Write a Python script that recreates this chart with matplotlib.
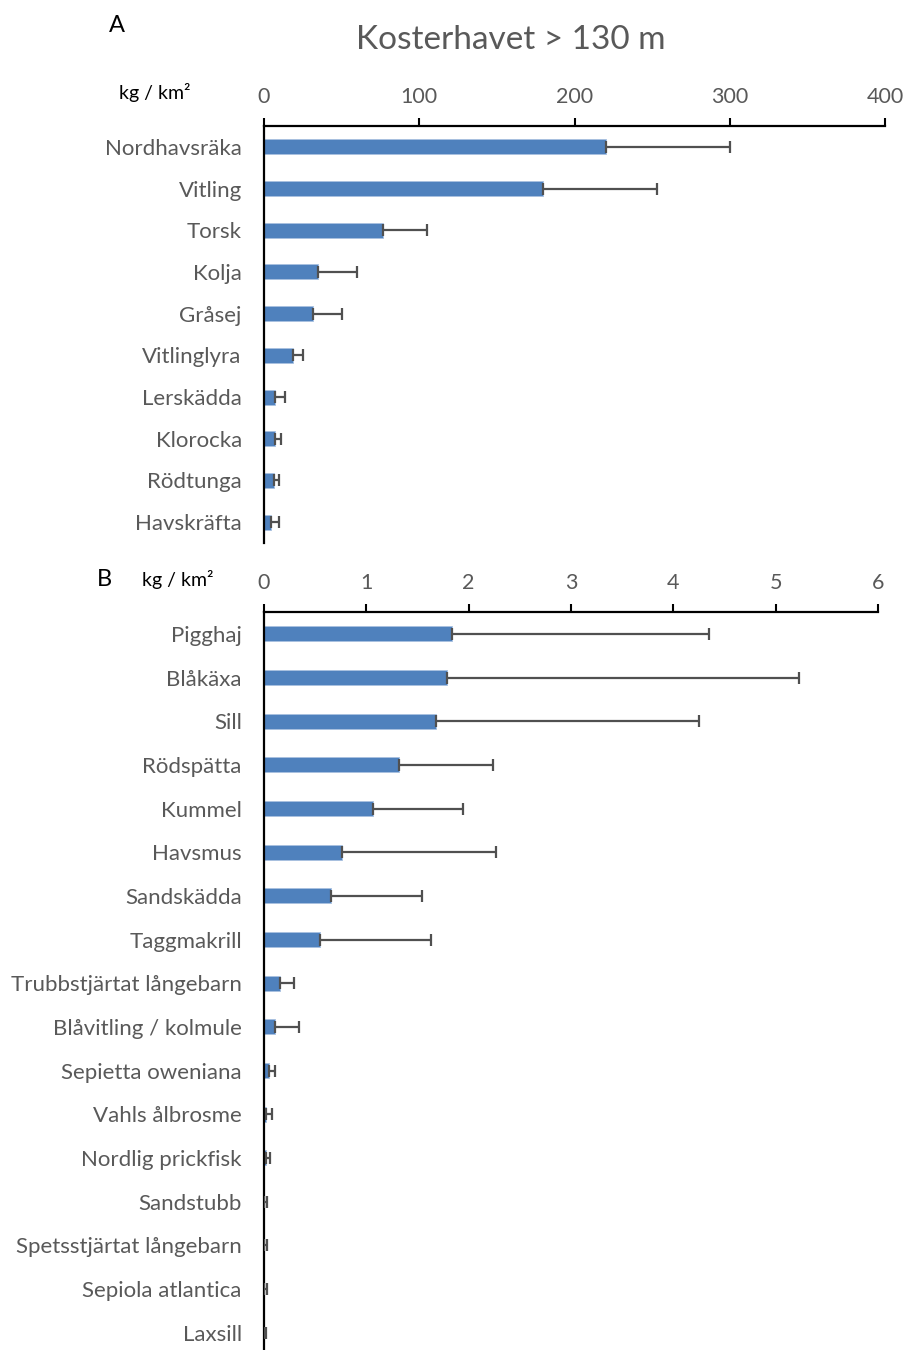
import numpy as np
import matplotlib.pyplot as plt

# Biomass (kg / km2) and upper end of the error bar, per species
species_a = ["Nordhavsräka", "Vitling", "Torsk", "Kolja", "Gråsej",
             "Vitlinglyra", "Lerskädda", "Klorocka", "Rödtunga", "Havskräfta"]
mean_a = [220, 179.5, 76.4, 35, 31.3, 18.9, 7.3, 7.3, 6.4, 4.7]
upper_a = [300, 253, 105, 60, 50.5, 25.1, 13.5, 11.2, 9.4, 9.4]
ticks_a = [0, 100, 200, 300, 400]

species_b = ["Pigghaj", "Blåkäxa", "Sill", "Rödspätta", "Kummel", "Havsmus",
             "Sandskädda", "Taggmakrill", "Trubbstjärtat långebarn",
             "Blåvitling / kolmule", "Sepietta oweniana", "Vahls ålbrosme",
             "Nordlig prickfisk", "Sandstubb", "Spetsstjärtat långebarn",
             "Sepiola atlantica", "Laxsill"]
mean_b = [1.84, 1.79, 1.68, 1.32, 1.07, 0.76, 0.65, 0.55, 0.16, 0.11,
          0.045, 0.02, 0.02, 0.004, 0.004, 0.004, 0.002]
upper_b = [4.35, 5.23, 4.25, 2.24, 1.94, 2.27, 1.54, 1.63, 0.29, 0.34,
           0.11, 0.075, 0.06, 0.03, 0.03, 0.03, 0.02]
ticks_b = [0, 1, 2, 3, 4, 5, 6]

BLUE = "#4f81bd"
GREY = "#595959"

plt.rcParams['font.family'] = ['Lato', 'DejaVu Sans']

W, H = 907, 1350
fig = plt.figure(figsize=(W / 100, H / 100), dpi=100)


def panel(rect, names, mean, upper, ticks, height, ylow):
    l, t, r, b = rect
    ax = fig.add_axes([l / W, 1 - b / H, (r - l) / W, (b - t) / H])
    y = np.arange(len(names))
    mean = np.array(mean)
    err = np.array(upper) - mean
    ax.barh(y, mean, height=height, color=BLUE, edgecolor="#a9c1e0",
            linewidth=0.6, zorder=2)
    ax.errorbar(mean, y, xerr=[np.zeros_like(err), err], fmt="none",
                ecolor="#505050", elinewidth=1.6, capsize=4, capthick=1.6, zorder=3)
    ax.set_xlim(ticks[0], ticks[-1])
    ax.set_ylim(ylow, -0.5)
    ax.set_xticks(ticks)
    ax.set_yticks(y)
    ax.set_yticklabels(names, fontsize=16, color=GREY)
    ax.xaxis.tick_top()
    ax.tick_params(axis="x", direction="out", length=6, width=1.5,
                   colors="black", labelcolor=GREY, labelsize=15.5, pad=8)
    ax.tick_params(axis="y", length=0, pad=16)
    for s in ("right", "bottom"):
        ax.spines[s].set_visible(False)
    for s in ("top", "left"):
        ax.spines[s].set_linewidth(1.6)
    return ax


panel((264, 126, 885, 543), species_a, mean_a, upper_a, ticks_a, 0.36, 9.5)
panel((264, 612, 878, 1350), species_b, mean_b, upper_b, ticks_b, 0.34, 16.4)

fig.text(511 / W, 1 - 40 / H, "Kosterhavet > 130 m", fontsize=24,
         color=GREY, ha="center", va="center")
fig.text(117 / W, 1 - 25 / H, "A", fontsize=17, ha="center", va="center")
fig.text(155 / W, 1 - 93 / H, "kg / km²", fontsize=14, ha="center", va="center")
fig.text(104 / W, 1 - 580 / H, "B", fontsize=17, ha="center", va="center")
fig.text(178 / W, 1 - 580 / H, "kg / km²", fontsize=14, ha="center", va="center")

fig.savefig("out.png", dpi=100)
